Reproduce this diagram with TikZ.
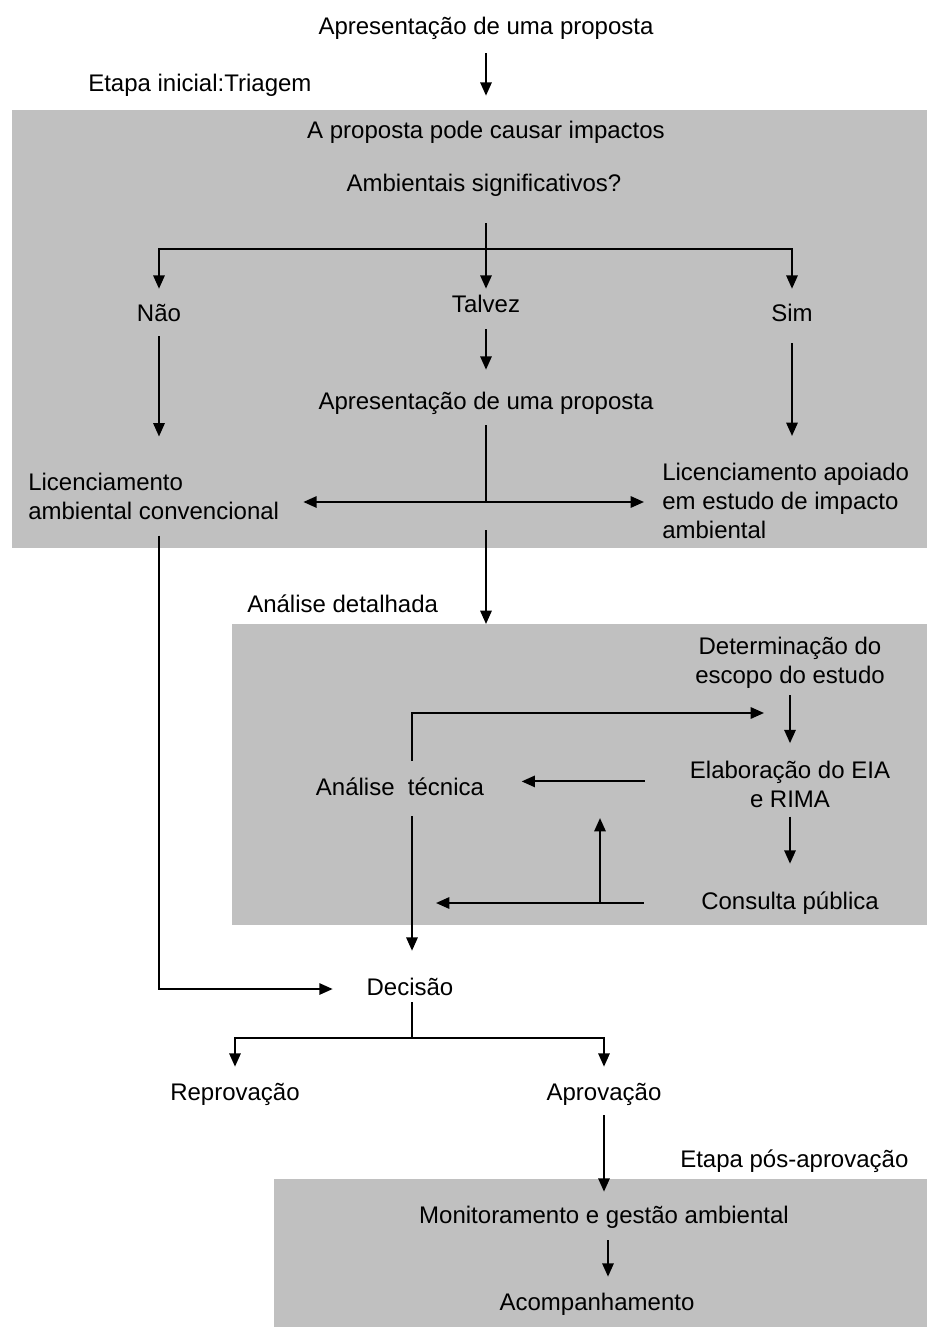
\documentclass[tikz,border=0pt]{standalone}
\usepackage{fontspec}
\setmainfont{Liberation Sans}
\usetikzlibrary{arrows.meta,calc}
\definecolor{panelgray}{RGB}{192,192,192}
\begin{document}
\begin{tikzpicture}[x=0.75pt,y=-0.75pt,
  txt/.style={inner sep=0pt,font=\fontsize{18}{21.75}\selectfont,text height=13pt,text depth=4pt,anchor=base},
  ml/.style={inner sep=0pt,font=\fontsize{18}{21.75}\selectfont},
  ln/.style={line width=1.5pt},
  arr/.style={line width=1.5pt,-{Triangle[length=10pt,width=8.5pt]}}]
\useasboundingbox (0,0) rectangle (927,1327);
% panels
\fill[panelgray] (12,110) rectangle (927,548);
\fill[panelgray] (232,624) coordinate (b2nw) rectangle (927,925);
\fill[panelgray] (274,1179) rectangle (927,1327);
% texts
\node[txt] (t0) at (486,35) {Apresentação de uma proposta};
\node[txt,anchor=base west] (et1) at (88,92) {Etapa inicial:Triagem};
\node[txt] (q1) at (486,139) {A proposta pode causar impactos};
\node[txt] (q2) at (484,191) {Ambientais significativos?};
\node[txt] (nao) at (159,321) {Não};
\node[txt] (talvez) at (486,312) {Talvez};
\node[txt] (sim) at (792,321) {Sim};
\node[txt] (ap2) at (486,409) {Apresentação de uma proposta};
\node[ml,align=left,anchor=north west] (licconv) at (28,472.5) {Licenciamento\\ambiental convencional};
\node[ml,align=left,anchor=north west] (licap) at (662,462.5) {Licenciamento apoiado\\em estudo de impacto\\ambiental};
\node[txt,anchor=base west] (et2) at (247,612) {Análise detalhada};
\node[ml,align=center,anchor=north] (det) at (790,636.5) {Determinação do\\escopo do estudo};
\node[ml,align=center,anchor=north] (elab) at (790,760.5) {Elaboração do EIA\\e RIMA};
\node[txt] (analtec) at (400,795) {Análise~ técnica};
\node[txt] (consulta) at (790,909) {Consulta pública};
\node[txt] (decisao) at (410,995) {Decisão};
\node[txt] (reprov) at (235,1100) {Reprovação};
\node[txt] (aprov) at (604,1100) {Aprovação};
\node[txt,anchor=base west] (et3) at (680,1167) {Etapa pós-aprovação};
\node[txt] (monit) at (604,1223) {Monitoramento e gestão ambiental};
\node[txt] (acomp) at (597,1310) {Acompanhamento};
% junctions
\coordinate (sp1) at (486,249);
\coordinate (sp2) at (486,502);
\coordinate (lp) at (412,713);
\coordinate (up1) at (600,903);
\coordinate (sp3) at (412,1038);
% connectors
\draw[arr,shorten <=9.5pt,shorten >=19.3pt] (t0.south) -- (q1.north);
\draw[ln,shorten <=20pt] (sp1 |- q2.south) -- (sp1);
\draw[arr,shorten >=11pt] (sp1) -| (nao.north);
\draw[arr,shorten >=4.3pt] (sp1) -- (talvez.north);
\draw[arr,shorten >=11pt] (sp1) -| (sim.north);
\draw[arr,shorten <=8.8pt,shorten >=16.3pt] (talvez.south) -- (ap2.north);
\draw[arr,shorten <=7.3pt,shorten >=27pt] (nao.south) -- (nao.south |- licconv.north);
\draw[arr,shorten <=12.5pt,shorten >=19.9pt] (sim.south) -- (sim.south |- licap.north);
\draw[ln,shorten <=8pt] (ap2.south) -- (sp2);
\draw[arr,shorten >=18pt] (sp2) -- (sp2 -| licconv.east);
\draw[arr,shorten >=13.5pt] (sp2) -- (sp2 -| licap.west);
\draw[arr,shorten <=21pt] (sp2) -- (sp2 |- b2nw);
\draw[arr,shorten <=12pt,shorten >=25.3pt] (nao.south |- licconv.south) |- (decisao.west);
\draw[arr,shorten <=12.5pt] (lp |- analtec.north) -- (lp) -- ($(lp -| det.south)+(-26,0)$);
\draw[arr,shorten <=5.3pt,shorten >=13pt] (det.south) -- (elab.north);
\draw[arr,shorten <=33.8pt,shorten >=28pt] ([yshift=2pt]elab.west) -- ([yshift=2pt]elab.west -| analtec.east);
\draw[arr,shorten <=6.8pt,shorten >=20.8pt] (elab.south) -- (consulta.north);
\draw[arr,shorten <=43pt,shorten >=18pt] (consulta.west) -- (consulta.west -| lp);
\draw[arr,shorten >=21.8pt] (up1) -- (up1 |- analtec.east);
\draw[arr,shorten <=11.8pt,shorten >=20pt] (lp |- analtec.south) -- (lp |- decisao.north);
\draw[ln,shorten <=1.3pt] (lp |- decisao.south) -- (sp3);
\draw[arr,shorten >=11.8pt] (sp3) -| (reprov.north);
\draw[arr,shorten >=11.8pt] (sp3) -| (aprov.north);
\draw[arr,shorten <=7.3pt,shorten >=10.3pt] (aprov.south) -- (aprov.south |- monit.north);
\draw[arr,shorten <=8.8pt,shorten >=11.8pt] ([xshift=3pt]monit.south) -- ([xshift=3pt]monit.south |- acomp.north);
\end{tikzpicture}
\end{document}
